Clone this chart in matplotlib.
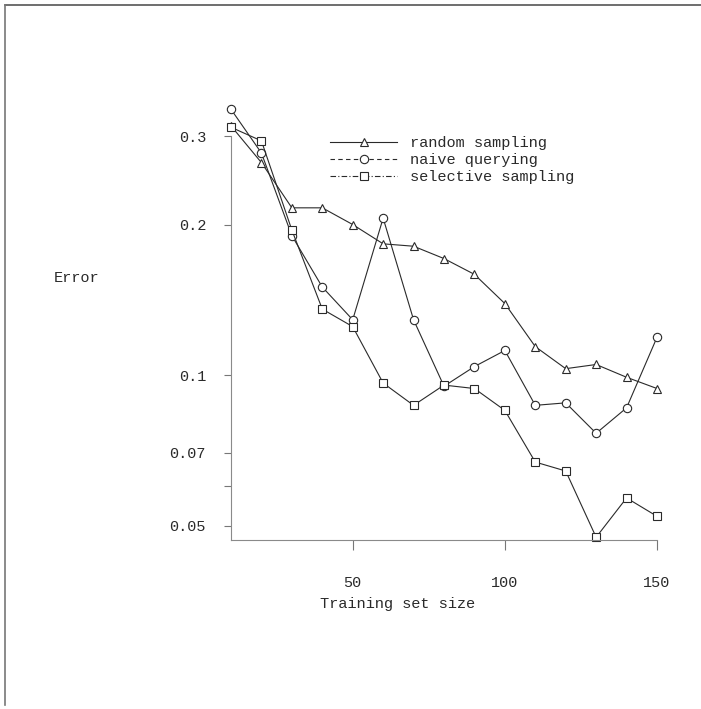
import matplotlib
matplotlib.use("Agg")
import matplotlib.pyplot as plt
from matplotlib.lines import Line2D
from matplotlib.ticker import FixedLocator, NullFormatter

plt.rcParams['font.family'] = ['Liberation Mono', 'DejaVu Sans Mono']

# Learning curves: error versus number of training examples
train_size = [10, 20, 30, 40, 50, 60, 70, 80, 90, 100, 110, 120, 130, 140, 150]
random_sampling = [0.315, 0.266, 0.216, 0.216, 0.200, 0.183, 0.181, 0.171, 0.159,
                   0.139, 0.114, 0.103, 0.105, 0.099, 0.094]
naive_querying = [0.340, 0.278, 0.190, 0.150, 0.129, 0.206, 0.129, 0.095, 0.104,
                  0.112, 0.087, 0.088, 0.0765, 0.086, 0.119]
selective_sampling = [0.313, 0.294, 0.195, 0.1355, 0.125, 0.0964, 0.087, 0.0955,
                      0.094, 0.085, 0.067, 0.0643, 0.0474, 0.0568, 0.0522]

series_labels = ["random sampling", "naive querying", "selective sampling"]
y_ticks = [0.05, 0.07, 0.1, 0.2, 0.3]
y_ticklabels = ["0.05", "0.07", "0.1", "0.2", "0.3"]
x_ticks = [50, 100, 150]

ink = "#2a2a2a"
W, H = 701, 709
fig = plt.figure(figsize=(W / 100, H / 100), dpi=100)
fig.patch.set_facecolor("white")

# axes box in pixel units (left, top, right, bottom)
L, T, R, B = 231, 103, 657, 540
ax = fig.add_axes([L / W, 1 - B / H, (R - L) / W, (B - T) / H])
ax.set_facecolor("white")

mk = dict(markersize=6, markerfacecolor="white", markeredgecolor=ink,
          markeredgewidth=0.8, color=ink, linewidth=0.8, clip_on=False)
ax.plot(train_size, random_sampling, marker="^", **mk)
ax.plot(train_size, naive_querying, marker="o", **mk)
ax.plot(train_size, selective_sampling, marker="s", **mk)

ax.set_yscale("log")
ax.set_xlim(10, 150)
ax.set_ylim(0.0468, 0.35)

ax.yaxis.set_major_locator(FixedLocator(y_ticks))
ax.set_yticklabels(y_ticklabels)
ax.yaxis.set_minor_locator(FixedLocator([0.06]))
ax.yaxis.set_minor_formatter(NullFormatter())
ax.set_xticks(x_ticks)
ax.set_xticklabels([str(v) for v in x_ticks])

for side in ("top", "right"):
    ax.spines[side].set_visible(False)
for side in ("left", "bottom"):
    ax.spines[side].set_color("#8a8a8a")
    ax.spines[side].set_linewidth(0.8)
ax.spines["left"].set_bounds(0.0468, 0.3)

ax.tick_params(axis="y", which="major", direction="out", length=5, width=0.8,
               color="#777777", pad=13, labelsize=11, labelcolor=ink)
ax.tick_params(axis="y", which="minor", direction="out", length=5, width=0.8,
               color="#777777")
ax.tick_params(axis="x", direction="out", length=7, width=0.8,
               color="#777777", pad=19, labelsize=11, labelcolor=ink)

ax.set_xlabel("Training set size", fontsize=11, color=ink)
ax.xaxis.set_label_coords((398 - L) / (R - L), (B - 604) / (B - T))
ax.xaxis.label.set_verticalalignment("center")
ax.set_ylabel("Error", fontsize=11, color=ink, rotation=0)
ax.yaxis.set_label_coords((77 - L) / (R - L), (B - 278) / (B - T))
ax.yaxis.label.set_horizontalalignment("center")
ax.yaxis.label.set_verticalalignment("center")

handles = [
    Line2D([], [], color=ink, lw=0.8, ls="-", marker="^", markersize=6,
           markerfacecolor="white", markeredgecolor=ink, markeredgewidth=0.8),
    Line2D([], [], color=ink, lw=0.8, ls=(0, (4, 3)), marker="o", markersize=6,
           markerfacecolor="white", markeredgecolor=ink, markeredgewidth=0.8),
    Line2D([], [], color=ink, lw=0.8, ls=(0, (5, 2, 1, 2)), marker="s", markersize=6,
           markerfacecolor="white", markeredgecolor=ink, markeredgewidth=0.8),
]
leg = ax.legend(handles, series_labels, loc="upper left",
                bbox_to_anchor=(330 / W, 1 - 136 / H), bbox_transform=fig.transFigure,
                frameon=False, fontsize=11, handlelength=4.4, handletextpad=0.85,
                labelspacing=0.2, borderpad=0, borderaxespad=0, markerscale=1.0)
for txt in leg.get_texts():
    txt.set_color(ink)

# page frame lines along the top and left edges
fig.add_artist(Line2D([5 / W, 1], [1 - 5 / H, 1 - 5 / H], transform=fig.transFigure,
                      color="#555555", lw=1.2))
fig.add_artist(Line2D([5 / W, 5 / W], [1 - 5 / H, 1 - 705 / H], transform=fig.transFigure,
                      color="#777777", lw=1.2))

fig.savefig("out.png", dpi=100, facecolor="white")
